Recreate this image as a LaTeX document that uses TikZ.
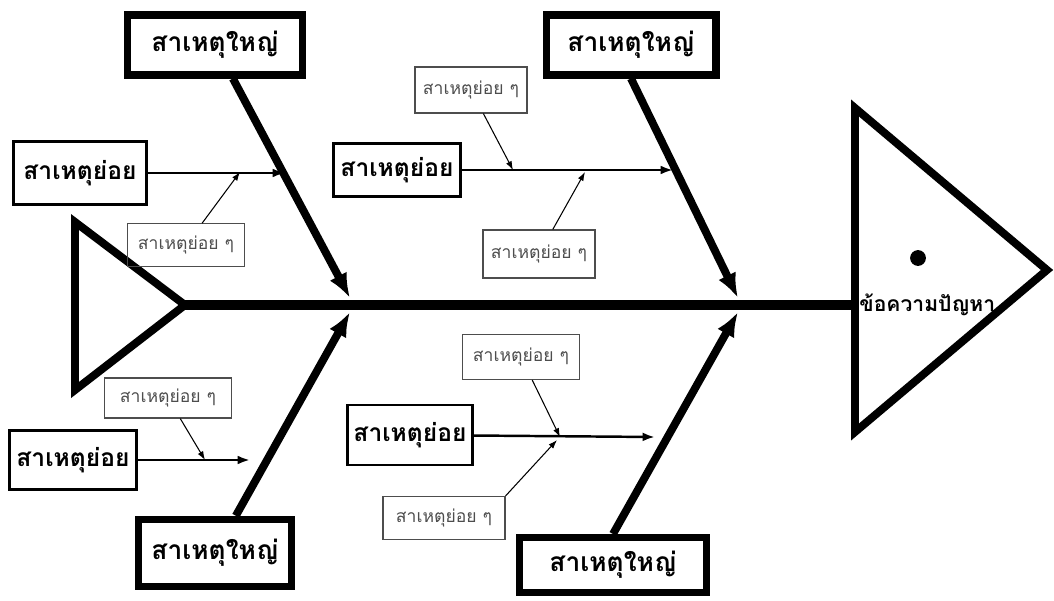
\documentclass[tikz,border=0pt]{standalone}
\usepackage{fontspec}
\newfontfamily\thaifont[Script=Thai]{Loma}
\usetikzlibrary{arrows.meta}
\definecolor{BoneBlack}{HTML}{000000}
\definecolor{MinorGray}{HTML}{4D4D4D}

\begin{document}
\begin{tikzpicture}[x=0.02cm, y=-0.02cm,
  bigbox/.style={draw=BoneBlack, line width=4pt, minimum height=1.2cm, font=\thaifont\bfseries\fontsize{15}{18}\selectfont},
  subbox/.style={draw=BoneBlack, line width=1.6pt, minimum height=1.1cm, font=\thaifont\bfseries\fontsize{14}{17}\selectfont},
  minorbox/.style={draw=MinorGray, line width=0.6pt, minimum height=0.85cm, text=MinorGray, font=\thaifont\fontsize{10}{12}\selectfont},
  spine/.style={line width=5.5pt, BoneBlack},
  bone/.style={-{Latex[length=14pt,width=11pt]}, line width=4.5pt, BoneBlack},
  subarr/.style={-{Latex[length=7pt,width=5pt]}, line width=1.4pt, BoneBlack},
  minorarr/.style={-{Latex[length=5pt,width=3.5pt]}, line width=0.6pt, BoneBlack},
  fishline/.style={line width=4.5pt, line join=miter, BoneBlack}
]
\useasboundingbox (0,0) rectangle (1054,601);
\draw[fishline] (75,222) -- (185,305) -- (75,390) -- cycle;
\draw[fishline] (855,108) -- (1047,270) -- (855,432) -- cycle;
\fill[BoneBlack] (918,258) circle (4.5pt);
\coordinate (tail) at (185,305);
\coordinate (head) at (855,305);
\draw[spine] (tail) -- (head);
\node[anchor=west, font=\thaifont\bfseries\fontsize{12}{15}\selectfont, inner sep=0pt] (problem) at (859,305) {ข้อความปัญหา};

\node[bigbox, minimum width=3.5cm] (big1) at (215,45) {สาเหตุใหญ่};
\node[bigbox, minimum width=3.4cm] (big2) at (631,45) {สาเหตุใหญ่};
\node[bigbox, minimum width=3.05cm, minimum height=1.35cm] (big3) at (215,553) {สาเหตุใหญ่};
\node[bigbox, minimum width=3.75cm, minimum height=1.1cm] (big4) at (613,565) {สาเหตุใหญ่};

\node[subbox, minimum width=2.65cm, minimum height=1.25cm] (sub1) at (80,173) {สาเหตุย่อย};
\node[subbox, minimum width=2.55cm, minimum height=1.07cm] (sub2) at (397,170) {สาเหตุย่อย};
\node[subbox, minimum width=2.55cm, minimum height=1.17cm] (sub3) at (73,460) {สาเหตุย่อย};
\node[subbox, minimum width=2.45cm, minimum height=1.2cm] (sub4) at (410,435) {สาเหตุย่อย};

\node[minorbox, minimum width=2.34cm] (minor1) at (186,245) {สาเหตุย่อย ๆ};
\node[minorbox, minimum width=2.24cm, minimum height=0.92cm] (minor2) at (471,90) {สาเหตุย่อย ๆ};
\node[minorbox, minimum width=2.24cm, minimum height=0.96cm] (minor3) at (539,254) {สาเหตุย่อย ๆ};
\node[minorbox, minimum width=2.54cm, minimum height=0.8cm] (minor4) at (168,398) {สาเหตุย่อย ๆ};
\node[minorbox, minimum width=2.34cm, minimum height=0.9cm] (minor5) at (521,357) {สาเหตุย่อย ๆ};
\node[minorbox, minimum width=2.44cm, minimum height=0.86cm] (minor6) at (444,518) {สาเหตุย่อย ๆ};

\coordinate (j1) at (350,298);
\coordinate (j2) at (738,298);
\coordinate (j3) at (350,312);
\coordinate (j4) at (738,312);
\coordinate (t1) at (285,173);
\coordinate (t2) at (673,170);
\coordinate (t3) at (250,460);
\coordinate (t4) at (655,437);
\coordinate (m1) at (240,172);
\coordinate (m2) at (513,170);
\coordinate (m3) at (585,172);
\coordinate (m4) at (205,460);
\coordinate (m5) at (560,437);
\coordinate (m6) at (557,440);

\draw[bone] (big1) -- (j1);
\draw[bone] (big2.south) -- (j2);
\draw[bone] (big3) -- (j3);
\draw[bone] (big4.north) -- (j4);
\draw[subarr] (sub1) -- (t1);
\draw[subarr] (sub2) -- (t2);
\draw[subarr] (sub3) -- (t3);
\draw[subarr] (sub4) -- (t4);
\draw[minorarr] (minor1) -- (m1);
\draw[minorarr] (minor2) -- (m2);
\draw[minorarr] (minor3) -- (m3);
\draw[minorarr] (minor4) -- (m4);
\draw[minorarr] (minor5) -- (m5);
\draw[minorarr] (minor6.north east) -- (m6);
\end{tikzpicture}
\end{document}
